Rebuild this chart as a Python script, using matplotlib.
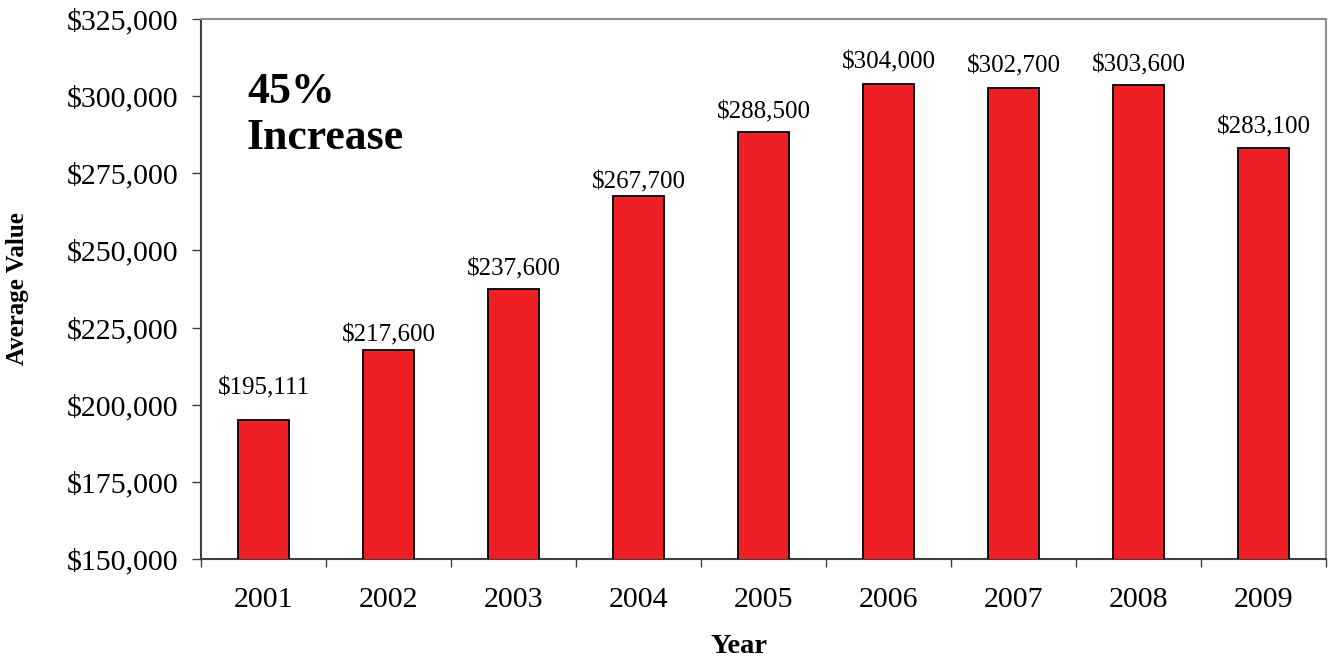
import matplotlib
matplotlib.use("Agg")
import matplotlib.pyplot as plt
from matplotlib.ticker import FuncFormatter, MultipleLocator, FixedLocator

years = ["2001", "2002", "2003", "2004", "2005", "2006", "2007", "2008", "2009"]
values = [195111, 217600, 237600, 267700, 288500, 304000, 302700, 303600, 283100]
value_labels = ["$195,111", "$217,600", "$237,600", "$267,700", "$288,500",
                "$304,000", "$302,700", "$303,600", "$283,100"]

# label gap above bar (pixels), styling only
label_gap_px = [25, 9, 13, 7, 13, 15, 15, 14, 15]

plt.rcParams['font.family'] = ['Liberation Serif', 'DejaVu Serif']

fig = plt.figure(figsize=(13.29, 6.61), dpi=100)
ax = fig.add_axes([201/1329, 1 - 559/661, (1326 - 201)/1329, (559 - 19)/661])

x = list(range(len(years)))
ax.bar(x, values, width=0.405, color="#EE2026", edgecolor="black", linewidth=1.3, zorder=3)

ax.set_xlim(-0.5, len(years) - 0.5)
ax.set_ylim(150000, 325000)

ax.yaxis.set_major_locator(MultipleLocator(25000))
ax.yaxis.set_major_formatter(FuncFormatter(lambda v, p: "${:,.0f}".format(v)))

ax.set_xticks(x)
ax.set_xticklabels(years)
ax.xaxis.set_minor_locator(FixedLocator([i - 0.5 for i in range(len(years) + 1)]))
ax.tick_params(axis='x', which='major', length=0, pad=20, labelsize=21.5)
ax.tick_params(axis='x', which='minor', length=6, width=1, color="#404040", direction='out')
ax.tick_params(axis='y', which='major', length=6.5, width=1, color="#404040", pad=10, labelsize=21.5)

for side in ['left', 'bottom']:
    ax.spines[side].set_color("#404040")
    ax.spines[side].set_linewidth(1.5)
for side in ['top', 'right']:
    ax.spines[side].set_color("#909090")
    ax.spines[side].set_linewidth(1.5)

for xi, v, lab, gap in zip(x, values, value_labels, label_gap_px):
    ax.annotate(lab, (xi, v), xytext=(0, gap), textcoords='offset pixels',
                ha='center', va='baseline', fontsize=18)

fig.text(247/1329, 1 - 103/661, "45%", fontsize=31.5, fontweight='bold', ha='left', va='baseline')
fig.text(247/1329, 1 - 149/661, "Increase", fontsize=31.5, fontweight='bold', ha='left', va='baseline')

fig.text(18/1329, 1 - 289/661, "Average Value", rotation=90, fontsize=18, fontweight='bold',
         ha='center', va='center')
fig.text(739/1329, 1 - 653/661, "Year", fontsize=20.5, fontweight='bold', ha='center', va='baseline')

fig.savefig("out.png", dpi=100)
